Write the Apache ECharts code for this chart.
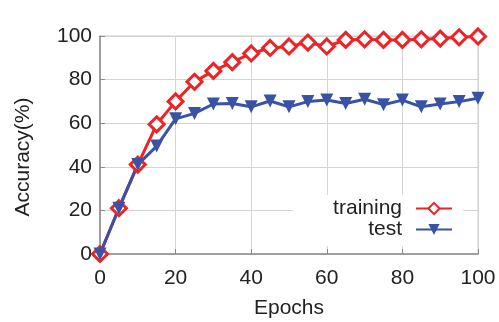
<!DOCTYPE html>
<html>
<head>
<meta charset="utf-8">
<script src="https://cdn.jsdelivr.net/npm/echarts@6/dist/echarts.min.js"></script>
<style>
  html, body { margin: 0; padding: 0; background: #fff; }
  #chart { width: 499px; height: 322px; }
</style>
</head>
<body>
<div id="chart"></div>
<script>
  // epochs sampled every 5
  var epochs = [0, 5, 10, 15, 20, 25, 30, 35, 40, 45, 50, 55, 60, 65, 70, 75, 80, 85, 90, 95, 100];
  var trainingAcc = [0, 21, 41, 59.5, 70, 79, 84, 88, 92, 94.5, 95.2, 97, 95.2, 98.2, 98.5, 98.2, 98.2, 98.5, 98.8, 99.4, 99.8];
  var testAcc = [0, 21, 41, 49.5, 62, 64.5, 68.8, 69, 67.5, 70.2, 67.5, 69.9, 70.6, 69, 71, 68.5, 70.6, 67.5, 68.8, 69.9, 71.4];
  var seriesNames = ['training', 'test'];

  var RED = '#ee2326';
  var BLUE = '#3953a4';
  var FONT = 'Liberation Sans, Arial, sans-serif';

  function pairs(xs, ys) {
    return xs.map(function (x, i) { return [x, ys[i]]; });
  }

  var chart = echarts.init(document.getElementById('chart'));
  var axisCommon = {
    type: 'value',
    min: 0,
    max: 100,
    interval: 20,
    nameLocation: 'middle',
    nameTextStyle: { fontSize: 21, color: '#222', fontFamily: FONT },
    axisLine: { show: true, lineStyle: { color: '#8a8a8a', width: 1.5 } },
    axisTick: { show: true, inside: true, length: 5, lineStyle: { color: '#8a8a8a' } },
    axisLabel: { fontSize: 21, color: '#222', fontFamily: FONT },
    splitLine: { show: true, lineStyle: { color: '#d4d4d4', width: 1 } }
  };

  var option = {
    animation: false,
    grid: {
      left: 100, right: 21, top: 36, bottom: 68,
      outerBoundsMode: 'none',
      containLabel: false,
      show: true, borderColor: '#c8c8c8', borderWidth: 1
    },
    legend: {
      data: seriesNames,
      orient: 'vertical',
      right: 36,
      top: 195,
      align: 'right',
      itemGap: 0,
      itemWidth: 36,
      itemHeight: 14,
      padding: [3, 10, 6, 40],
      backgroundColor: '#fff',
      textStyle: { fontSize: 21, lineHeight: 20, color: '#222', fontFamily: FONT, padding: [0, 9, 0, 0] }
    },
    xAxis: Object.assign({}, axisCommon, {
      name: 'Epochs',
      nameGap: 44,
      axisLabel: Object.assign({}, axisCommon.axisLabel, { margin: 14 })
    }),
    yAxis: Object.assign({}, axisCommon, {
      name: 'Accuracy(%)',
      nameGap: 66,
      nameTextStyle: Object.assign({}, axisCommon.nameTextStyle, { padding: [0, 24, 0, 0] }),
      axisLabel: Object.assign({}, axisCommon.axisLabel, { margin: 8 })
    }),
    series: [
      {
        name: seriesNames[0],
        type: 'line',
        data: pairs(epochs, trainingAcc),
        symbol: 'diamond',
        symbolSize: 15,
        lineStyle: { color: RED, width: 3 },
        itemStyle: { color: '#fff', borderColor: RED, borderWidth: 3 }
      },
      {
        name: seriesNames[1],
        type: 'line',
        data: pairs(epochs, testAcc),
        symbol: 'triangle',
        symbolRotate: 180,
        symbolSize: 13,
        lineStyle: { color: BLUE, width: 3 },
        itemStyle: { color: BLUE }
      }
    ]
  };
  chart.setOption(option);
</script>
</body>
</html>
